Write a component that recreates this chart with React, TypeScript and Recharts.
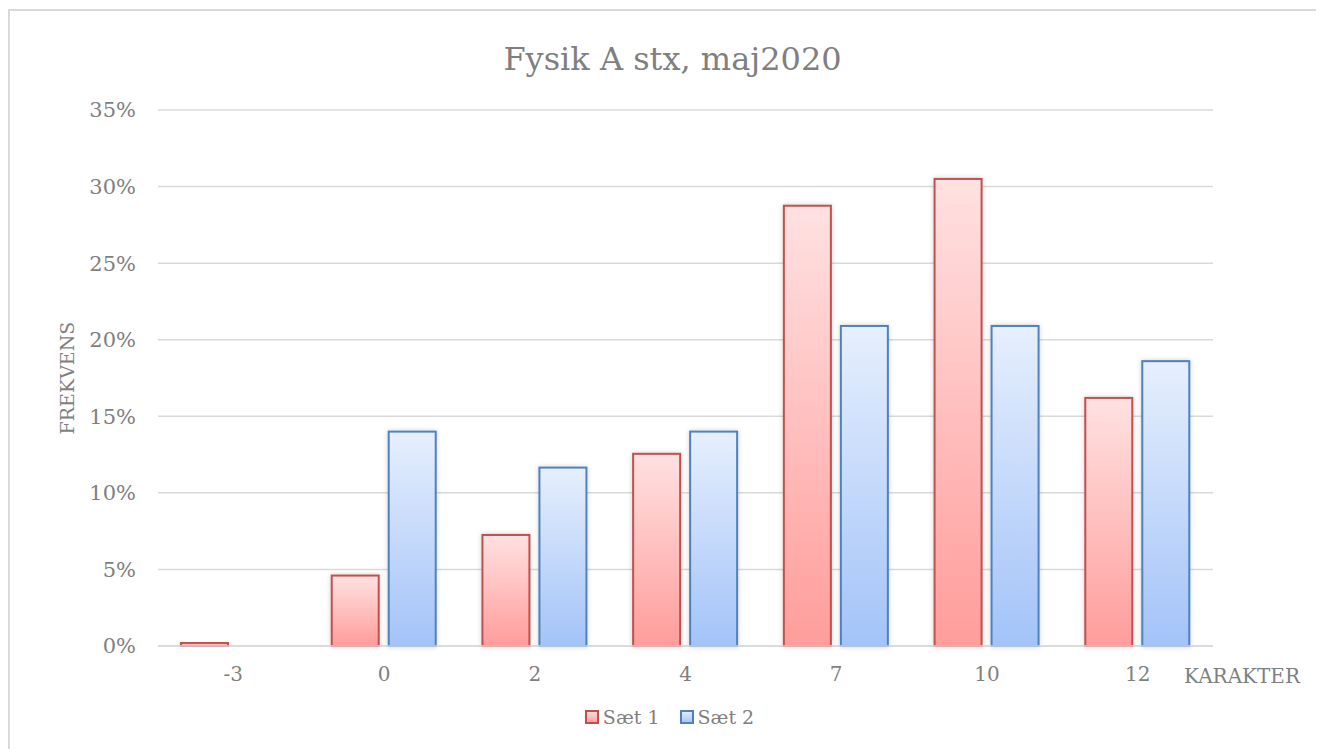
import { BarChart, Bar, XAxis, YAxis, CartesianGrid, Legend } from "recharts";

const karakterer = ["-3", "0", "2", "4", "7", "10", "12"];
const saet1 = [0.2, 4.6, 7.25, 12.55, 28.75, 30.5, 16.2];
const saet2 = [0, 14.0, 11.65, 14.0, 20.9, 20.9, 18.6];
const yTicks = [0, 5, 10, 15, 20, 25, 30, 35];

const data = karakterer.map((k, i) => ({ karakter: k, s1: saet1[i], s2: saet2[i] }));

const FONT = "'DejaVu Serif', serif";
const GREY = "#7f7f7f";

const renderLegend = () => (
    <div style={{ display: "flex", justifyContent: "center", gap: 20, fontFamily: FONT, fontSize: 19, color: GREY, paddingLeft: 8 }}>
        {[
            { name: "Sæt 1", fill: "url(#gradRed)", stroke: "#c0504d" },
            { name: "Sæt 2", fill: "url(#gradBlue)", stroke: "#4f81bd" },
        ].map((item) => (
            <span key={item.name} style={{ display: "flex", alignItems: "center", gap: 4 }}>
                <svg width={14} height={14}>
                    <rect x={1} y={1} width={12} height={12} fill={item.fill} stroke={item.stroke} strokeWidth={2} />
                </svg>
                {item.name}
            </span>
        ))}
    </div>
);

// bars with a light shadow, like the office chart
const shadowBar = (props: any) => {
    const { x, y, width, height, fill, stroke } = props;
    if (!height || height <= 0) return <g />;
    return (
        <rect x={x} y={y} width={width} height={height} fill={fill} stroke={stroke} strokeWidth={2} filter="url(#barShadow)" />
    );
};

export default function App() {
    return (
        <div style={{ position: "relative", width: 1315, height: 745, border: "2px solid #d9d9d9", marginTop: 1, boxSizing: "border-box" }}>
            <div style={{ position: "absolute", top: 29, left: 7, width: "100%", textAlign: "center", fontFamily: FONT, fontSize: 32, color: GREY }}>
                Fysik A stx, maj2020
            </div>
            <BarChart
                width={1311}
                height={741}
                data={data}
                margin={{ top: 99, right: 108, bottom: 6, left: 0 }}
                barSize={47}
                barGap={10}
                style={{ position: "absolute", top: 0, left: 0 }}
            >
                <defs>
                    <linearGradient id="gradRed" x1="0" y1="0" x2="0" y2="1">
                        <stop offset="0%" stopColor="#ffe1e1" />
                        <stop offset="100%" stopColor="#ff9d9b" />
                    </linearGradient>
                    <linearGradient id="gradBlue" x1="0" y1="0" x2="0" y2="1">
                        <stop offset="0%" stopColor="#e6effd" />
                        <stop offset="100%" stopColor="#a3c3f8" />
                    </linearGradient>
                    <filter id="barShadow" x="-20%" y="-5%" width="140%" height="110%">
                        <feDropShadow dx="0" dy="0" stdDeviation="2.5" floodColor="#000" floodOpacity="0.18" />
                    </filter>
                </defs>
                <CartesianGrid vertical={false} stroke="#d9d9d9" strokeWidth={1.5} />
                <XAxis
                    dataKey="karakter"
                    axisLine={{ stroke: "#d9d9d9", strokeWidth: 1.5 }}
                    tickLine={false}
                    tick={{ fill: GREY, fontFamily: FONT, fontSize: 20 }}
                    tickMargin={15}
                    height={60}
                    label={{ value: "KARAKTER", position: "right", offset: -29, fill: GREY, fontFamily: FONT, fontSize: 20 }}
                />
                <YAxis
                    domain={[0, 35]}
                    ticks={yTicks}
                    width={148}
                    axisLine={false}
                    tickLine={false}
                    tickSize={0}
                    tickMargin={22}
                    tickFormatter={(v: number) => `${v}%`}
                    tick={{ fill: GREY, fontFamily: FONT, fontSize: 21 }}
                    label={{ value: "FREKVENS", angle: -90, position: "insideLeft", offset: 57, fill: GREY, fontFamily: FONT, fontSize: 19, style: { textAnchor: "middle" } }}
                />
                <Legend verticalAlign="bottom" height={40} content={renderLegend} wrapperStyle={{ left: 0, width: 1311 }} />
                <Bar dataKey="s1" name="Sæt 1" fill="url(#gradRed)" stroke="#c0504d" shape={shadowBar} isAnimationActive={false} />
                <Bar dataKey="s2" name="Sæt 2" fill="url(#gradBlue)" stroke="#4f81bd" shape={shadowBar} isAnimationActive={false} />
            </BarChart>
        </div>
    );
}
